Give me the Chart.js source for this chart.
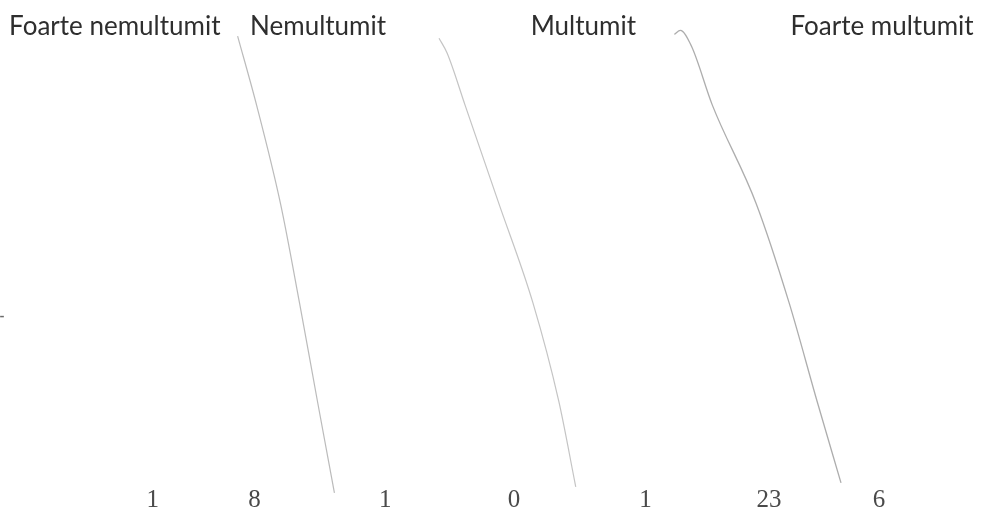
<!DOCTYPE html>
<html lang="ro">
<head>
<meta charset="UTF-8">
<title>Foarte nemultumit ... Foarte multumit</title>
<script src="https://cdn.jsdelivr.net/npm/chart.js@4.4.1/dist/chart.umd.min.js"></script>
<style>
  html, body { margin: 0; padding: 0; background: #fff; }
  #wrap { width: 982px; height: 512px; }
</style>
</head>
<body>
<div id="wrap"><canvas id="sheet"></canvas></div>
<script>
// headings written along the top of the sheet
const categories = ['Foarte nemultumit', 'Nemultumit', 'Multumit', 'Foarte multumit'];
// counts written along the bottom
const counts = [1, 8, 1, 0, 1, 23, 6];

// pencil strokes: x in column units (0..6 = count columns), y in % of height from top
const stroke1X = [0.771, 0.924, 1.117, 1.270, 1.415, 1.552];
const stroke1Y = [-2.7, 13.2, 35.9, 58.7, 81.4, 102.5];
const stroke2X = [2.396, 2.461, 2.606, 2.879, 3.153, 3.362, 3.499];
const stroke2Y = [-2.2, 1.2, 13.2, 35.9, 58.7, 81.4, 101.1];
const stroke3X = [4.295, 4.343, 4.432, 4.601, 4.955, 5.220, 5.446, 5.639];
const stroke3Y = [-3.1, -4.0, -0.4, 13.2, 35.9, 58.7, 81.4, 100.2];
// small stray dash at the left margin
const dashX = [-1.145, -1.115];
const dashY = [61.9, 61.9];

// where the texts sit, in the same column units
const headingAt = [-0.22, 1.42, 3.56, 5.97];
const countAt = [0.087, 0.908, 1.962, 3.0, 4.062, 5.059, 5.945];

function pts(xs, ys) {
  return xs.map((x, i) => ({ x: x, y: ys[i] }));
}

function pencil(xs, ys, color, width) {
  return {
    data: pts(xs, ys),
    showLine: true,
    borderColor: color,
    borderWidth: width,
    pointRadius: 0,
    cubicInterpolationMode: 'monotone',
    clip: false
  };
}

const ctx = document.getElementById('sheet').getContext('2d');
new Chart(ctx, {
  type: 'scatter',
  data: {
    datasets: [
      pencil(stroke1X, stroke1Y, 'rgba(120,120,120,0.5)', 1.2),
      pencil(stroke2X, stroke2Y, 'rgba(125,125,125,0.45)', 1.2),
      pencil(stroke3X, stroke3Y, 'rgba(105,105,105,0.55)', 1.3),
      pencil(dashX, dashY, 'rgba(70,70,70,0.8)', 1.5)
    ]
  },
  options: {
    responsive: true,
    maintainAspectRatio: false,
    animation: false,
    layout: { padding: { left: 80, right: 32, top: 4.6, bottom: 0 } },
    plugins: { legend: { display: false }, tooltip: { enabled: false } },
    scales: {
      x: {
        type: 'linear',
        position: 'bottom',
        min: -0.5,
        max: 6.5,
        grid: { display: false, drawTicks: false },
        border: { display: false },
        afterBuildTicks: axis => { axis.ticks = countAt.map(v => ({ value: v })); },
        afterFit: axis => { axis.height = 30; },
        ticks: {
          autoSkip: false,
          maxRotation: 0,
          padding: 3,
          color: '#4a4a4a',
          font: { family: '"Liberation Serif", serif', size: 25 },
          callback: (v, i) => String(counts[i])
        }
      },
      x2: {
        type: 'linear',
        position: 'top',
        min: -0.5,
        max: 6.5,
        grid: { display: false, drawTicks: false },
        border: { display: false },
        afterBuildTicks: axis => { axis.ticks = headingAt.map(v => ({ value: v })); },
        ticks: {
          autoSkip: false,
          maxRotation: 0,
          padding: 6,
          color: '#2e2e2e',
          font: { family: 'Lato, sans-serif', size: 26 },
          callback: (v, i) => categories[i]
        }
      },
      y: {
        type: 'linear',
        reverse: true,
        min: 0,
        max: 100,
        display: false
      }
    }
  }
});
</script>
</body>
</html>
